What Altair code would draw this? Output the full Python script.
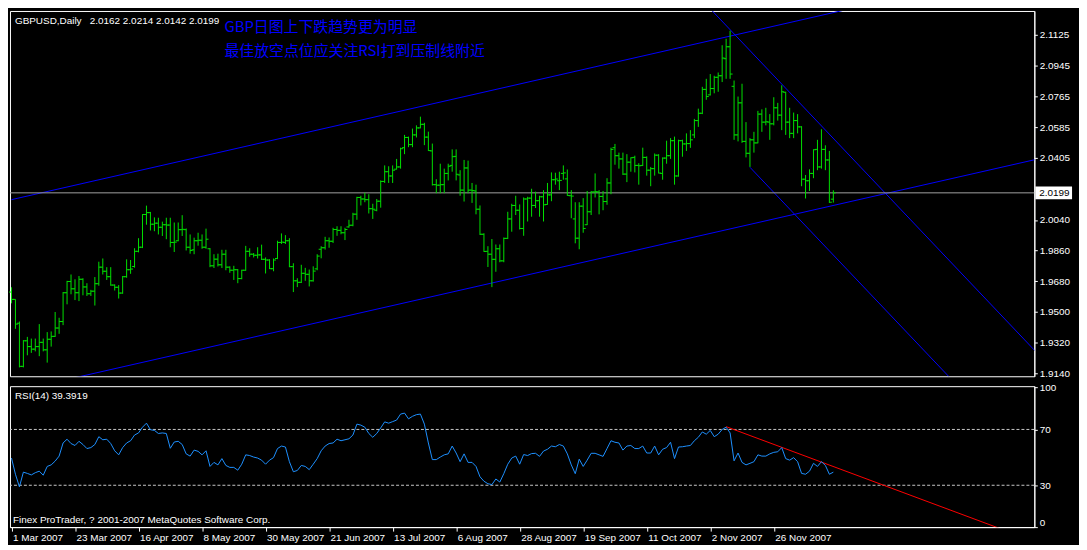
import json
import altair as alt
import pandas as pd

# ---------------- data ----------------
opens = [
    1.9617, 1.9574, 1.9434, 1.9181, 1.9331, 1.9297, 1.9282, 1.9297, 1.9322, 1.9278,
    1.9340, 1.9357, 1.9406, 1.9444, 1.9613, 1.9679, 1.9636, 1.9613, 1.9692, 1.9647,
    1.9607, 1.9622, 1.9666, 1.9763, 1.9739, 1.9707, 1.9658, 1.9645, 1.9611, 1.9707,
    1.9748, 1.9767, 1.9856, 1.9880, 2.0072, 2.0083, 2.0015, 2.0021, 1.9997, 2.0012,
    2.0010, 1.9908, 1.9918, 1.9983, 1.9983, 1.9880, 1.9865, 1.9918, 1.9921, 1.9880,
    1.9871, 1.9771, 1.9810, 1.9777, 1.9839, 1.9763, 1.9745, 1.9748, 1.9696, 1.9745,
    1.9856, 1.9839, 1.9833, 1.9835, 1.9809, 1.9805, 1.9754, 1.9814, 1.9908, 1.9908,
    1.9918, 1.9766, 1.9683, 1.9674, 1.9727, 1.9721, 1.9683, 1.9753, 1.9868, 1.9877,
    1.9918, 1.9915, 1.9984, 1.9979, 1.9965, 1.9999, 2.0009, 2.0074, 2.0172, 2.0163,
    2.0159, 2.0106, 2.0097, 2.0150, 2.0266, 2.0323, 2.0298, 2.0338, 2.0351, 2.0464,
    2.0524, 2.0482, 2.0539, 2.0580, 2.0601, 2.0526, 2.0445, 2.0247, 2.0244, 2.0247,
    2.0313, 2.0360, 2.0413, 2.0304, 2.0215, 2.0345, 2.0215, 2.0210, 2.0103, 1.9956,
    1.9856, 1.9839, 1.9809, 1.9871, 1.9800, 1.9932, 2.0046, 2.0125, 2.0097, 1.9990,
    2.0163, 2.0168, 2.0125, 2.0153, 2.0176, 2.0131, 2.0187, 2.0276, 2.0270, 2.0313,
    2.0281, 2.0182, 2.0046, 1.9933, 2.0121, 2.0012, 2.0088, 2.0204, 2.0204, 2.0178,
    2.0148, 2.0257, 2.0464, 2.0417, 2.0398, 2.0309, 2.0379, 2.0407, 2.0360, 2.0360,
    2.0407, 2.0332, 2.0341, 2.0420, 2.0313, 2.0403, 2.0417, 2.0505, 2.0298, 2.0505,
    2.0486, 2.0488, 2.0539, 2.0623, 2.0666, 2.0806, 2.0774, 2.0811, 2.0877, 2.0886,
    2.0986, 2.1056, 2.0824, 2.0539, 2.0727, 2.0501, 2.0431, 2.0510, 2.0492, 2.0661,
    2.0614, 2.0614, 2.0604, 2.0698, 2.0655, 2.0789, 2.0614, 2.0548, 2.0623, 2.0586,
    2.0279, 2.0270, 2.0313, 2.0454, 2.0351, 2.0454, 2.0392, 2.0162,
]
highs = [
    1.9645, 1.9574, 1.9444, 1.9335, 1.9354, 1.9344, 1.9344, 1.9429, 1.9344, 1.9382,
    1.9386, 1.9500, 1.9466, 1.9617, 1.9683, 1.9720, 1.9692, 1.9711, 1.9698, 1.9669,
    1.9630, 1.9705, 1.9795, 1.9814, 1.9763, 1.9763, 1.9662, 1.9658, 1.9711, 1.9809,
    1.9805, 1.9874, 1.9933, 2.0074, 2.0124, 2.0087, 2.0055, 2.0053, 2.0030, 2.0053,
    2.0053, 2.0025, 2.0025, 2.0068, 1.9990, 1.9955, 1.9936, 1.9965, 1.9955, 1.9989,
    1.9875, 1.9839, 1.9842, 1.9865, 1.9865, 1.9768, 1.9771, 1.9752, 1.9748, 1.9888,
    1.9874, 1.9846, 1.9880, 1.9895, 1.9820, 1.9810, 1.9814, 1.9918, 1.9961, 1.9951,
    1.9933, 1.9786, 1.9698, 1.9777, 1.9759, 1.9749, 1.9768, 1.9839, 1.9886, 1.9941,
    1.9937, 1.9994, 2.0003, 2.0003, 1.9994, 2.0041, 2.0082, 2.0176, 2.0182, 2.0200,
    2.0191, 2.0135, 2.0163, 2.0272, 2.0360, 2.0355, 2.0360, 2.0398, 2.0464, 2.0539,
    2.0529, 2.0576, 2.0595, 2.0646, 2.0610, 2.0558, 2.0488, 2.0279, 2.0370, 2.0341,
    2.0370, 2.0454, 2.0454, 2.0332, 2.0392, 2.0388, 2.0257, 2.0247, 2.0125, 1.9962,
    1.9886, 1.9928, 1.9896, 1.9896, 1.9937, 2.0088, 2.0135, 2.0182, 2.0131, 2.0172,
    2.0176, 2.0223, 2.0206, 2.0182, 2.0215, 2.0257, 2.0319, 2.0317, 2.0323, 2.0360,
    2.0336, 2.0215, 2.0144, 2.0144, 2.0168, 2.0210, 2.0210, 2.0313, 2.0215, 2.0210,
    2.0285, 2.0464, 2.0486, 2.0435, 2.0435, 2.0426, 2.0407, 2.0417, 2.0373, 2.0464,
    2.0413, 2.0351, 2.0430, 2.0426, 2.0407, 2.0505, 2.0520, 2.0529, 2.0511, 2.0511,
    2.0548, 2.0567, 2.0633, 2.0693, 2.0821, 2.0868, 2.0896, 2.0886, 2.0905, 2.1065,
    2.1103, 2.1150, 2.0858, 2.0764, 2.0839, 2.0614, 2.0520, 2.0557, 2.0680, 2.0689,
    2.0698, 2.0661, 2.0760, 2.0727, 2.0830, 2.0792, 2.0698, 2.0670, 2.0661, 2.0590,
    2.0304, 2.0337, 2.0454, 2.0510, 2.0572, 2.0478, 2.0445, 2.0214,
]
lows = [
    1.9551, 1.9401, 1.9175, 1.9175, 1.9246, 1.9260, 1.9269, 1.9241, 1.9269, 1.9203,
    1.9297, 1.9354, 1.9372, 1.9423, 1.9545, 1.9604, 1.9570, 1.9564, 1.9598, 1.9594,
    1.9594, 1.9538, 1.9654, 1.9720, 1.9688, 1.9654, 1.9626, 1.9579, 1.9607, 1.9701,
    1.9724, 1.9760, 1.9850, 1.9875, 2.0012, 1.9978, 1.9974, 1.9955, 1.9946, 1.9927,
    1.9880, 1.9852, 1.9915, 1.9946, 1.9861, 1.9842, 1.9839, 1.9889, 1.9871, 1.9871,
    1.9763, 1.9758, 1.9767, 1.9758, 1.9745, 1.9730, 1.9688, 1.9669, 1.9692, 1.9742,
    1.9824, 1.9820, 1.9814, 1.9805, 1.9726, 1.9752, 1.9739, 1.9810, 1.9899, 1.9899,
    1.9763, 1.9617, 1.9646, 1.9670, 1.9683, 1.9650, 1.9678, 1.9745, 1.9815, 1.9866,
    1.9877, 1.9905, 1.9947, 1.9956, 1.9922, 1.9995, 2.0003, 2.0041, 2.0125, 2.0144,
    2.0078, 2.0046, 2.0091, 2.0112, 2.0257, 2.0257, 2.0257, 2.0336, 2.0341, 2.0426,
    2.0467, 2.0467, 2.0524, 2.0578, 2.0479, 2.0445, 2.0242, 2.0197, 2.0197, 2.0197,
    2.0272, 2.0323, 2.0272, 2.0182, 2.0148, 2.0197, 2.0140, 2.0073, 1.9952, 1.9853,
    1.9764, 1.9646, 1.9736, 1.9792, 1.9792, 1.9928, 1.9971, 2.0069, 1.9984, 1.9947,
    2.0031, 2.0059, 2.0110, 2.0059, 2.0031, 2.0129, 2.0150, 2.0247, 2.0215, 2.0276,
    2.0182, 2.0050, 1.9903, 1.9868, 1.9965, 2.0010, 2.0069, 2.0172, 2.0073, 2.0097,
    2.0129, 2.0191, 2.0364, 2.0341, 2.0304, 2.0262, 2.0323, 2.0319, 2.0247, 2.0356,
    2.0300, 2.0238, 2.0300, 2.0313, 2.0276, 2.0370, 2.0398, 2.0247, 2.0294, 2.0411,
    2.0445, 2.0463, 2.0520, 2.0586, 2.0661, 2.0745, 2.0770, 2.0783, 2.0792, 2.0849,
    2.0868, 2.0868, 2.0510, 2.0501, 2.0492, 2.0407, 2.0351, 2.0435, 2.0490, 2.0557,
    2.0595, 2.0510, 2.0595, 2.0623, 2.0567, 2.0539, 2.0520, 2.0520, 2.0548, 2.0238,
    2.0166, 2.0210, 2.0285, 2.0332, 2.0341, 2.0332, 2.0140, 2.0142,
]
closes = [
    1.9574, 1.9429, 1.9181, 1.9331, 1.9297, 1.9282, 1.9297, 1.9322, 1.9278, 1.9340,
    1.9357, 1.9406, 1.9444, 1.9613, 1.9679, 1.9636, 1.9613, 1.9692, 1.9647, 1.9607,
    1.9622, 1.9666, 1.9763, 1.9739, 1.9707, 1.9658, 1.9645, 1.9611, 1.9707, 1.9748,
    1.9752, 1.9856, 1.9880, 2.0072, 2.0083, 2.0015, 2.0021, 1.9997, 2.0012, 2.0010,
    1.9908, 1.9910, 1.9983, 1.9985, 1.9880, 1.9861, 1.9918, 1.9921, 1.9880, 1.9927,
    1.9771, 1.9810, 1.9777, 1.9839, 1.9763, 1.9745, 1.9748, 1.9696, 1.9745, 1.9856,
    1.9839, 1.9833, 1.9835, 1.9809, 1.9805, 1.9754, 1.9805, 1.9908, 1.9910, 1.9918,
    1.9766, 1.9683, 1.9674, 1.9727, 1.9721, 1.9683, 1.9740, 1.9828, 1.9877, 1.9918,
    1.9915, 1.9984, 1.9979, 1.9965, 1.9984, 2.0009, 2.0074, 2.0172, 2.0163, 2.0159,
    2.0106, 2.0103, 2.0150, 2.0266, 2.0323, 2.0298, 2.0332, 2.0351, 2.0458, 2.0524,
    2.0482, 2.0539, 2.0580, 2.0601, 2.0526, 2.0447, 2.0247, 2.0244, 2.0247, 2.0313,
    2.0355, 2.0411, 2.0308, 2.0215, 2.0345, 2.0215, 2.0213, 2.0103, 1.9956, 1.9855,
    1.9839, 1.9809, 1.9871, 1.9800, 1.9932, 2.0046, 2.0125, 2.0097, 1.9990, 2.0163,
    2.0168, 2.0125, 2.0153, 2.0176, 2.0129, 2.0187, 2.0276, 2.0280, 2.0272, 2.0316,
    2.0184, 2.0180, 1.9933, 2.0121, 1.9990, 2.0088, 2.0204, 2.0206, 2.0178, 2.0148,
    2.0257, 2.0454, 2.0417, 2.0398, 2.0309, 2.0379, 2.0405, 2.0360, 2.0358, 2.0407,
    2.0332, 2.0341, 2.0420, 2.0315, 2.0403, 2.0417, 2.0505, 2.0298, 2.0505, 2.0486,
    2.0488, 2.0510, 2.0623, 2.0666, 2.0806, 2.0764, 2.0811, 2.0877, 2.0886, 2.0990,
    2.1056, 2.0896, 2.0539, 2.0727, 2.0501, 2.0431, 2.0510, 2.0492, 2.0661, 2.0614,
    2.0616, 2.0604, 2.0698, 2.0655, 2.0792, 2.0614, 2.0548, 2.0623, 2.0586, 2.0279,
    2.0270, 2.0313, 2.0452, 2.0351, 2.0454, 2.0392, 2.0144, 2.0199,
]
rsi_values = [
    49.5, 37.9, 28.9, 39.4, 38.5, 37.4, 39.0, 40.1, 37.2, 43.5,
    44.6, 47.3, 50.9, 60.3, 63.0, 59.9, 58.5, 61.5, 59.2, 56.3,
    57.0, 59.2, 64.8, 62.6, 63.0, 59.9, 54.7, 51.8, 57.0, 60.3,
    61.9, 66.0, 67.5, 71.6, 74.5, 69.8, 69.3, 67.1, 67.5, 67.1,
    56.5, 61.0, 61.5, 59.2, 52.5, 50.9, 55.2, 54.3, 51.8, 54.7,
    43.5, 46.4, 44.6, 49.1, 44.2, 42.8, 42.8, 40.8, 45.1, 51.8,
    51.3, 50.2, 49.5, 48.0, 45.1, 48.0, 49.8, 56.3, 58.1, 57.4,
    46.9, 39.7, 40.6, 44.2, 43.5, 41.2, 45.1, 49.1, 54.7, 58.1,
    59.9, 60.3, 63.0, 61.9, 62.6, 63.3, 66.0, 73.8, 73.1, 71.6,
    67.1, 64.4, 67.1, 71.1, 75.4, 74.5, 75.6, 76.7, 81.0, 81.7,
    77.6, 79.4, 80.6, 81.0, 73.8, 60.3, 48.4, 48.4, 50.2, 51.8,
    52.5, 58.1, 53.1, 46.9, 52.5, 46.4, 46.4, 43.5, 36.1, 32.9,
    31.1, 30.5, 34.5, 32.3, 38.3, 45.1, 49.5, 50.9, 45.1, 52.0,
    51.3, 52.7, 52.9, 50.7, 54.5, 55.8, 58.1, 57.6, 59.2, 58.1,
    52.5, 44.6, 38.3, 48.7, 43.5, 48.0, 52.9, 52.9, 51.8, 50.7,
    56.3, 61.9, 60.8, 60.3, 55.2, 58.1, 58.5, 56.3, 56.3, 58.1,
    53.1, 53.1, 58.1, 51.8, 55.8, 57.0, 60.8, 49.1, 57.4, 57.6,
    58.1, 58.5, 61.9, 64.4, 68.2, 66.6, 69.3, 64.8, 66.6, 70.0,
    71.6, 67.5, 47.5, 53.1, 46.4, 44.6, 45.7, 46.9, 51.8, 50.9,
    50.9, 52.5, 53.6, 54.0, 57.0, 49.1, 48.0, 49.8, 46.9, 38.5,
    37.9, 40.1, 45.7, 43.5, 46.9, 44.2, 37.9, 39.4,
]

date_labels = ["1 Mar 2007", "23 Mar 2007", "16 Apr 2007", "8 May 2007", "30 May 2007",
               "21 Jun 2007", "13 Jul 2007", "6 Aug 2007", "28 Aug 2007", "19 Sep 2007",
               "11 Oct 2007", "2 Nov 2007", "26 Nov 2007"]
date_label_bars = [0, 16, 32, 48, 64, 80, 96, 112, 128, 144, 160, 176, 192]

# (2.0225 sits behind the current-price box in the reference, so it is left out)
price_ticks = [2.1125, 2.0945, 2.0765, 2.0585, 2.0405, 2.0040,
               1.9860, 1.9680, 1.9500, 1.9320, 1.9140]
rsi_ticks = [0, 30, 70, 100]
rsi_levels = [30, 70]

# channel lines (start bar, start price, end bar, end price)
line_names = ["up_top", "up_bottom", "down_top", "down_bottom"]
line_bar0 = [0, 0, 176, 186]
line_p0 = [2.0159, 1.9030, 2.1279, 2.0349]
line_bar1 = [262, 262, 262, 262]
line_p1 = [2.1548, 2.0416, 1.9169, 1.8486]

# RSI resistance line
red_bars = [180, 250]
red_vals = [72.0, -2.1]

symbol_text = "GBPUSD,Daily\u00a0\u00a0 2.0162 2.0214 2.0142 2.0199"
note_line1 = "GBP日图上下跌趋势更为明显"
note_line2 = "最佳放空点位应关注RSI打到压制线附近"
rsi_title = "RSI(14) 39.3919"
footer_text = "Finex ProTrader, ? 2001-2007 MetaQuotes Software Corp."

# ---------------- layout / style ----------------
W = 1032
H_MAIN = 368
H_RSI = 142
X_DOMAIN = [-0.375, 257.625]
P_DOMAIN = [1.9123, 2.1266]
R_DOMAIN = [0, 101]
FONT = "Liberation Sans"
BAR_COLOR = "#00e000"
WHITE = "#ffffff"

n = len(closes)
bars = pd.DataFrame({"bar": list(range(n)), "open": opens, "high": highs,
                     "low": lows, "close": closes})
rsi_df = pd.DataFrame({"bar": list(range(len(rsi_values))), "rsi": rsi_values})

rows = []
for nm, b0, p0, b1, p1 in zip(line_names, line_bar0, line_p0, line_bar1, line_p1):
    rows.append({"name": nm, "bar": b0, "price": p0})
    rows.append({"name": nm, "bar": b1, "price": p1})
lines_df = pd.DataFrame(rows)
red_df = pd.DataFrame({"bar": red_bars, "v": red_vals})
last_df = pd.DataFrame({"p": [closes[-1]]})

xs = alt.Scale(domain=X_DOMAIN, nice=False, zero=False)
ps = alt.Scale(domain=P_DOMAIN, nice=False, zero=False)
rs = alt.Scale(domain=R_DOMAIN, nice=False, zero=False)

price_axis = alt.Axis(orient="right", values=price_ticks, format=".4f", grid=False,
                      domainColor=WHITE, tickColor=WHITE, tickSize=3,
                      labelColor=WHITE, labelFont=FONT, labelFontSize=10,
                      labelPadding=2, labelOverlap=False, labelFlush=False, title=None)


def PX(field="bar"):
    return alt.X(f"{field}:Q", scale=xs, axis=None, title=None)


def PY(field):
    return alt.Y(f"{field}:Q", scale=ps, axis=price_axis, title=None)


hl = alt.Chart(bars).mark_rule(color=BAR_COLOR, strokeWidth=1).encode(
    x=PX(), y=PY("low"), y2="high:Q")
op = alt.Chart(bars).mark_rule(color=BAR_COLOR, strokeWidth=1, xOffset=-2.5, x2Offset=0).encode(
    x=PX(), x2="bar:Q", y=PY("open"))
cl = alt.Chart(bars).mark_rule(color=BAR_COLOR, strokeWidth=1, xOffset=0, x2Offset=2.5).encode(
    x=PX(), x2="bar:Q", y=PY("close"))

chan = alt.Chart(lines_df).mark_line(color="#0000ff", strokeWidth=1, clip=True).encode(
    x=PX(), y=PY("price"), detail="name:N")

hline = alt.Chart(last_df).mark_rule(color="#a0a0a0", strokeWidth=1).encode(y=PY("p"))
box = alt.Chart(last_df).mark_rule(color=WHITE, strokeWidth=13, strokeCap="butt").encode(
    x=alt.value(W + 1), x2=alt.value(W + 38), y=PY("p"))
box_txt = alt.Chart(last_df).mark_text(align="left", baseline="middle", color="#000000",
                                       font=FONT, fontSize=10).encode(
    x=alt.value(W + 5), y=PY("p"), text=alt.Text("p:Q", format=".4f"))

hdr = alt.Chart(pd.DataFrame({"t": [symbol_text]})).mark_text(
    align="left", baseline="middle", color=WHITE, font=FONT, fontSize=10).encode(
    x=alt.value(5), y=alt.value(10), text="t:N")
n1 = alt.Chart(pd.DataFrame({"t": [note_line1]})).mark_text(
    align="left", baseline="middle", color="#0000ff", font="Noto Sans CJK SC", fontSize=15).encode(
    x=alt.value(216), y=alt.value(16), text="t:N")
n2 = alt.Chart(pd.DataFrame({"t": [note_line2]})).mark_text(
    align="left", baseline="middle", color="#0000ff", font="Noto Sans CJK SC", fontSize=15).encode(
    x=alt.value(216), y=alt.value(40), text="t:N")

main = alt.layer(chan, hline, hl, op, cl, box, box_txt, hdr, n1, n2).properties(
    width=W, height=H_MAIN)

# ---------------- RSI panel ----------------
label_expr = json.dumps(date_labels).replace('"', "'") + "[round(datum.value/16)]"
rsi_x_axis = alt.Axis(values=date_label_bars, labelExpr=label_expr, labelAlign="left",
                      labelOffset=1, tickSize=4, tickColor=WHITE, domainColor=WHITE,
                      labelColor=WHITE, labelFont=FONT, labelFontSize=10, labelPadding=1,
                      labelOverlap=False, labelFlush=False, grid=False, title=None)
rsi_y_axis = alt.Axis(orient="right", values=rsi_ticks, format="d", grid=False,
                      domainColor=WHITE, tickColor=WHITE, tickSize=3, labelColor=WHITE,
                      labelFont=FONT, labelFontSize=10, labelPadding=2, labelFlush=True,
                      labelOverlap=False, title=None)


def RX(field="bar"):
    return alt.X(f"{field}:Q", scale=xs, axis=rsi_x_axis, title=None)


def RY(field):
    return alt.Y(f"{field}:Q", scale=rs, axis=rsi_y_axis, title=None)


lvl = alt.Chart(pd.DataFrame({"lvl": rsi_levels})).mark_rule(
    color="#c8c8c8", strokeDash=[3, 2], strokeWidth=1).encode(y=RY("lvl"))
rline = alt.Chart(rsi_df).mark_line(color="#1e90ff", strokeWidth=1).encode(
    x=RX(), y=RY("rsi"))
red = alt.Chart(red_df).mark_line(color="#ff0000", strokeWidth=1, clip=True).encode(
    x=RX(), y=RY("v"))
rsi_hdr = alt.Chart(pd.DataFrame({"t": [rsi_title]})).mark_text(
    align="left", baseline="middle", color=WHITE, font=FONT, fontSize=10).encode(
    x=alt.value(5), y=alt.value(10), text="t:N")
foot = alt.Chart(pd.DataFrame({"t": [footer_text]})).mark_text(
    align="left", baseline="middle", color=WHITE, font=FONT, fontSize=10).encode(
    x=alt.value(3), y=alt.value(H_RSI - 7), text="t:N")

rsi_panel = alt.layer(lvl, red, rline, rsi_hdr, foot).properties(width=W, height=H_RSI)

chart = alt.vconcat(main, rsi_panel, spacing=2).properties(
    padding={"left": 0, "top": 0, "right": 0, "bottom": 0}
).configure(background="#000000").configure_view(
    stroke=WHITE, strokeWidth=1, fill="#000000")

chart.save("out.html", embed_options={"renderer": "svg", "actions": False})
